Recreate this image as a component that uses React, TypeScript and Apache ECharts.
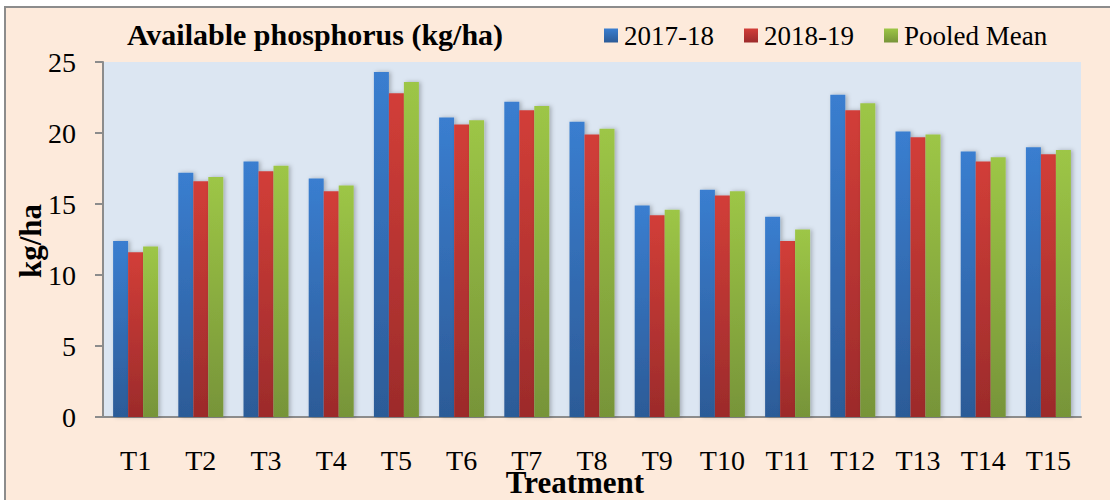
import React, { useEffect, useRef } from "react";
import * as echarts from "echarts";

const categories = ["T1", "T2", "T3", "T4", "T5", "T6", "T7", "T8", "T9", "T10", "T11", "T12", "T13", "T14", "T15"];
const series2017 = [12.4, 17.2, 18.0, 16.8, 24.3, 21.1, 22.2, 20.8, 14.9, 16.0, 14.1, 22.7, 20.1, 18.7, 19.0];
const series2018 = [11.6, 16.6, 17.3, 15.9, 22.8, 20.6, 21.6, 19.9, 14.2, 15.6, 12.4, 21.6, 19.7, 18.0, 18.5];
const seriesPooled = [12.0, 16.9, 17.7, 16.3, 23.6, 20.9, 21.9, 20.3, 14.6, 15.9, 13.2, 22.1, 19.9, 18.3, 18.8];
const yTicks = [0, 5, 10, 15, 20, 25];

const FONT = "'Liberation Serif', 'Times New Roman', serif";

function grad(top: string, bottom: string) {
  return new echarts.graphic.LinearGradient(0, 0, 0, 1, [
    { offset: 0, color: top },
    { offset: 1, color: bottom },
  ]);
}

export default function App() {
  const ref = useRef<HTMLDivElement>(null);
  useEffect(() => {
    if (!ref.current) return;
    const chart = echarts.init(ref.current, undefined, { renderer: "svg" });
    const barShadow = {
      shadowColor: "rgba(0,0,0,0.25)",
      shadowBlur: 4,
      shadowOffsetX: 2,
      shadowOffsetY: 0,
    };
    const mk = (name: string, data: number[], top: string, bottom: string, legendColor: string) => ({
      name,
      type: "bar",
      data,
      barGap: "0%",
      barCategoryGap: "31%",
      itemStyle: { color: grad(top, bottom), ...barShadow },
      emphasis: { disabled: true },
      color: legendColor,
    });
    chart.setOption({
      animation: false,
      backgroundColor: "#ffffff",
      graphic: [
        {
          type: "rect",
          z: -10,
          silent: true,
          shape: { x: 5, y: 7, width: 1120, height: 510 },
          style: { fill: "#FDEADB", stroke: "#8c8c8c", lineWidth: 2 },
        },
        {
          type: "text",
          x: 315,
          y: 34,
          style: {
            text: "Available phosphorus (kg/ha)",
            font: `bold 30px ${FONT}`,
            fill: "#000",
            align: "center",
            verticalAlign: "middle",
          },
        },
        {
          type: "text",
          x: 575,
          y: 482,
          style: {
            text: "Treatment",
            font: `bold 31px ${FONT}`,
            fill: "#000",
            align: "center",
            verticalAlign: "middle",
          },
        },
        {
          type: "text",
          x: 30,
          y: 241,
          rotation: Math.PI / 2,
          style: {
            text: "kg/ha",
            font: `bold 31px ${FONT}`,
            fill: "#000",
            align: "center",
            verticalAlign: "middle",
          },
        },
      ],
      legend: {
        left: 599,
        top: 17,
        itemWidth: 14,
        itemHeight: 14,
        itemGap: 30,
        icon: "rect",
        textStyle: { fontFamily: FONT, fontSize: 27, color: "#000", padding: [0, 0, 0, 1] },
        data: ["2017-18", "2018-19", "Pooled Mean"],
      },
      grid: {
        left: 103,
        right: 29,
        top: 62,
        bottom: 83,
        show: true,
        backgroundColor: "#DCE6F2",
        borderWidth: 0,
      },
      xAxis: {
        type: "category",
        data: categories,
        axisLine: { lineStyle: { color: "#8c8c8c", width: 2 } },
        axisTick: { length: 8, lineStyle: { color: "#8c8c8c", width: 2 } },
        axisLabel: { fontFamily: FONT, fontSize: 28, color: "#000", margin: 29 },
      },
      yAxis: {
        type: "value",
        min: yTicks[0],
        max: yTicks[yTicks.length - 1],
        interval: 5,
        axisLine: { show: true, lineStyle: { color: "#8c8c8c", width: 2 } },
        axisTick: { show: true, length: 8, lineStyle: { color: "#8c8c8c", width: 2 } },
        axisLabel: { fontFamily: FONT, fontSize: 28, color: "#000", margin: 27 },
        splitLine: {
          lineStyle: {
            color: "#8c8c8c",
            width: 2,
            shadowColor: "rgba(0,0,0,0.2)",
            shadowBlur: 2,
            shadowOffsetY: 2,
          },
        },
      },
      series: [
        mk("2017-18", series2017, "#3A7ED0", "#2C5B97", "#3A72C0"),
        mk("2018-19", series2018, "#D23E38", "#9C2B2B", "#C0393A"),
        mk("Pooled Mean", seriesPooled, "#9DC646", "#779439", "#8CB040"),
      ],
    });
    return () => chart.dispose();
  }, []);
  return (
    <div style={{ position: "fixed", left: 0, top: 0, width: 1110, height: 500 }}>
      <div ref={ref} style={{ width: 1110, height: 500 }} />
    </div>
  );
}
